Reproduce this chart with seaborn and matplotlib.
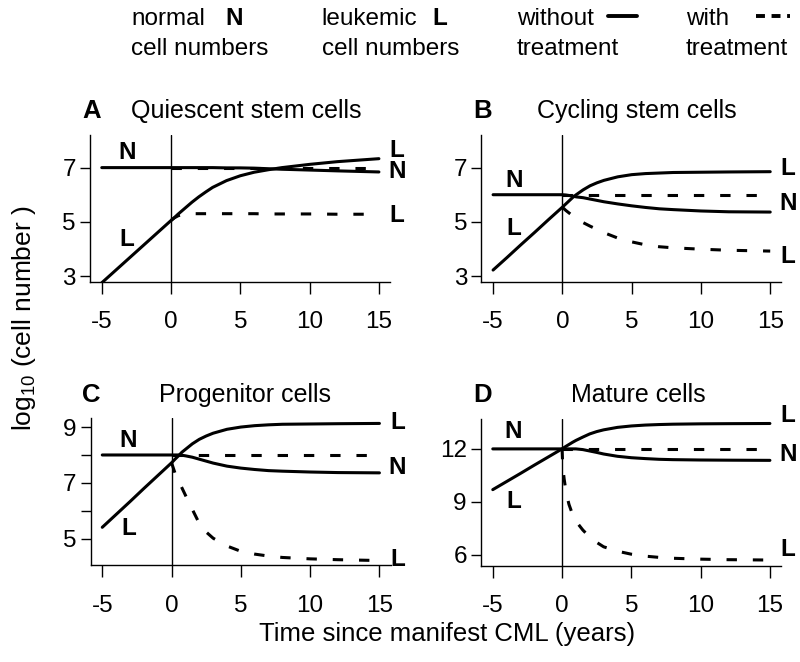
import matplotlib
matplotlib.use("Agg")
import matplotlib.pyplot as plt
import seaborn as sns
import pandas as pd
from matplotlib.lines import Line2D

# time since manifest CML (years)
t_full = [-5, -4, -3, -2, -1, 0, 0.25, 0.5, 0.75, 1, 1.5, 2, 2.5, 3, 4, 5, 6, 7, 8, 10, 12, 15]
t_treat = [0, 0.25, 0.5, 0.75, 1, 1.5, 2, 2.5, 3, 4, 5, 6, 7, 8, 10, 12, 15]
t_fast = [0, 0.05, 0.15, 0.3, 0.5, 0.75, 1, 1.5, 2, 2.5, 3, 4, 5, 6, 7, 8, 10, 12, 15]

# A: quiescent stem cells
A_N_without = [7.0, 7.0, 7.0, 7.0, 7.0, 7.0, 7.0, 7.0, 7.0, 7.0, 7.0, 7.0, 7.0, 7.0, 6.99, 6.99, 6.98, 6.96, 6.94, 6.91, 6.88, 6.84]
A_N_with = [7.0, 7.0, 7.0, 7.0, 7.0, 7.0, 7.0, 7.0, 7.0, 7.0, 7.0, 7.0, 7.0, 7.0, 7.0, 7.0, 7.0]
A_L_without = [2.75, 3.21, 3.67, 4.13, 4.59, 5.05, 5.16, 5.28, 5.39, 5.5, 5.72, 5.92, 6.1, 6.27, 6.52, 6.7, 6.83, 6.92, 7.0, 7.12, 7.22, 7.33]
A_L_with = [5.05, 5.15, 5.22, 5.26, 5.28, 5.3, 5.3, 5.3, 5.3, 5.3, 5.3, 5.3, 5.29, 5.29, 5.29, 5.28, 5.28]

# B: cycling stem cells
B_N_without = [6.0, 6.0, 6.0, 6.0, 6.0, 6.0, 5.99, 5.97, 5.95, 5.92, 5.89, 5.84, 5.79, 5.74, 5.66, 5.59, 5.53, 5.48, 5.45, 5.4, 5.37, 5.36]
B_N_with = [6.0, 6.0, 6.0, 6.0, 6.0, 6.0, 6.0, 6.0, 6.0, 6.0, 6.0, 6.0, 6.0, 6.0, 6.0, 6.0, 6.0]
B_L_without = [3.22, 3.68, 4.15, 4.61, 5.08, 5.54, 5.66, 5.78, 5.9, 6.0, 6.18, 6.33, 6.44, 6.53, 6.66, 6.74, 6.78, 6.8, 6.82, 6.83, 6.84, 6.85]
B_L_with = [5.54, 5.42, 5.32, 5.22, 5.13, 4.97, 4.84, 4.72, 4.6, 4.4, 4.26, 4.15, 4.08, 4.04, 3.99, 3.95, 3.92]

# C: progenitor cells
C_N_without = [8.0, 8.0, 8.0, 8.0, 8.0, 8.0, 8.0, 8.0, 7.99, 7.97, 7.92, 7.85, 7.78, 7.71, 7.6, 7.53, 7.48, 7.44, 7.42, 7.39, 7.37, 7.36]
C_N_with = [8.0, 8.0, 8.0, 8.0, 8.0, 8.0, 8.0, 8.0, 8.0, 8.0, 8.0, 8.0, 8.0, 8.0, 8.0, 8.0, 8.0]
C_L_without = [5.41, 5.87, 6.33, 6.8, 7.26, 7.72, 7.85, 7.97, 8.1, 8.2, 8.4, 8.56, 8.68, 8.78, 8.92, 9.0, 9.05, 9.08, 9.1, 9.11, 9.12, 9.13]
C_L_with = [7.72, 7.35, 7.08, 6.82, 6.56, 6.05, 5.55, 5.24, 5.02, 4.74, 4.55, 4.45, 4.38, 4.33, 4.28, 4.25, 4.22]

# D: mature cells
D_N_without = [12.0, 12.0, 12.0, 12.0, 12.0, 12.0, 12.0, 12.0, 12.0, 12.0, 11.96, 11.88, 11.8, 11.71, 11.58, 11.5, 11.45, 11.41, 11.39, 11.37, 11.36, 11.35]
D_N_with = [12.0, 12.0, 12.0, 12.0, 12.0, 12.0, 12.0, 12.0, 12.0, 12.0, 12.0, 12.0, 12.0, 12.0, 12.0, 12.0, 12.0]
D_L_without = [9.69, 10.15, 10.61, 11.08, 11.54, 12.0, 12.13, 12.25, 12.37, 12.48, 12.67, 12.85, 12.98, 13.08, 13.22, 13.3, 13.35, 13.38, 13.4, 13.42, 13.43, 13.44]
D_L_with = [12.0, 11.0, 10.3, 9.5, 8.85, 8.3, 7.9, 7.4, 7.0, 6.7, 6.45, 6.2, 6.03, 5.92, 5.85, 5.8, 5.75, 5.72, 5.7]

letters = ["A", "B", "C", "D"]
titles = ["Quiescent stem cells", "Cycling stem cells", "Progenitor cells", "Mature cells"]
x_ticks = [-5, 0, 5, 10, 15]

sns.set_style("ticks")
plt.rcParams['font.family'] = ['Liberation Sans', 'DejaVu Sans']
plt.rcParams['text.color'] = 'black'
plt.rcParams['axes.labelcolor'] = 'black'
plt.rcParams['xtick.color'] = 'black'
plt.rcParams['ytick.color'] = 'black'
plt.rcParams['axes.unicode_minus'] = False
plt.rcParams['mathtext.fontset'] = 'custom'
plt.rcParams['mathtext.rm'] = 'Liberation Sans'
plt.rcParams['mathtext.default'] = 'rm'

W, H = 800, 662
fig = plt.figure(figsize=(W / 100, H / 100), dpi=100)


def fx(px):
    return px / W


def fy(py):
    return 1 - py / H


LW = 2.2
DASH = (3.4, 5.2)

panels = [
    dict(pos=(90, 281.7), ylim=(2.79, 8.2), yt=[3, 5, 7], ytl=["3", "5", "7"],
         series=[(t_full, A_N_without, False), (t_treat, A_N_with, True),
                 (t_full, A_L_without, False), (t_treat, A_L_with, True)],
         left=[("N", -3.17, 7.54), ("L", -3.2, 4.33)],
         right=[("L", 7.65), ("N", 6.84), ("L", 5.22)],
         head=(82, 246.7, 117.7)),
    dict(pos=(481.3, 281.7), ylim=(2.79, 8.2), yt=[3, 5, 7], ytl=["3", "5", "7"],
         series=[(t_full, B_N_without, False), (t_treat, B_N_with, True),
                 (t_full, B_L_without, False), (t_treat, B_L_with, True)],
         left=[("N", -3.48, 6.52), ("L", -3.48, 4.75)],
         right=[("L", 6.95), ("N", 5.67), ("L", 3.71)],
         head=(473.3, 637, 117.7)),
    dict(pos=(90.5, 565), ylim=(4.06, 9.31), yt=[5, 6, 7, 8, 9], ytl=["5", "", "7", "", "9"],
         series=[(t_full, C_N_without, False), (t_treat, C_N_with, True),
                 (t_full, C_L_without, False), (t_treat, C_L_with, True)],
         left=[("N", -3.12, 8.53), ("L", -3.12, 5.38)],
         right=[("L", 9.16), ("N", 7.54), ("L", 4.24)],
         head=(81.7, 245, 402)),
    dict(pos=(481, 565.5), ylim=(5.39, 13.7), yt=[6, 9, 12], ytl=["6", "9", "12"],
         series=[(t_full, D_N_without, False), (t_treat, D_N_with, True),
                 (t_full, D_L_without, False), (t_fast, D_L_with, True)],
         left=[("N", -3.51, 13.0), ("L", -3.51, 9.02)],
         right=[("L", 13.89), ("N", 11.68), ("L", 6.28)],
         head=(473.3, 638, 402)),
]

ax_w, ax_h = 300, 146.6
for i, p in enumerate(panels):
    left_px, bottom_px = p["pos"]
    ax = fig.add_axes([fx(left_px), fy(bottom_px), ax_w / W, ax_h / H])
    ax.axvline(0, color="black", lw=1.0, zorder=1)
    for t, v, dashed in p["series"]:
        df = pd.DataFrame({"t": t, "v": v})
        sns.lineplot(data=df, x="t", y="v", ax=ax, color="black", lw=LW,
                     estimator=None, sort=False, zorder=3)
        if dashed:
            ax.lines[-1].set_dashes(DASH)
    ax.set_xlim(-5.85, 15.8)
    ax.set_ylim(*p["ylim"])
    ax.set_xticks(x_ticks)
    ax.set_xticklabels([str(x) for x in x_ticks])
    ax.set_yticks(p["yt"])
    ax.set_yticklabels(p["ytl"])
    ax.set_xlabel("")
    ax.set_ylabel("")
    sns.despine(ax=ax)
    for s in ["left", "bottom"]:
        ax.spines[s].set_linewidth(1.0)
        ax.spines[s].set_color("black")
    ax.tick_params(axis="x", length=8.4, width=1, pad=13, labelsize=17.5)
    ax.tick_params(axis="y", length=7.2, width=1, pad=3, labelsize=17.5)
    for s, x, y in p["left"]:
        ax.text(x, y, s, ha="center", va="center", fontsize=17.5, fontweight="bold")
    for s, y in p["right"]:
        ax.text(16.3, y, s, ha="center", va="center", fontsize=17.5, fontweight="bold",
                clip_on=False)
    lx, tx, by = p["head"]
    fig.text(fx(lx), fy(by), letters[i], ha="left", va="baseline", fontsize=18.5, fontweight="bold")
    fig.text(fx(tx), fy(by), titles[i], ha="center", va="baseline", fontsize=18)

# shared axis labels
fig.text(fx(24), fy(318), r"log$_{10}$ (cell number )", rotation=90, ha="center", va="center", fontsize=19)
fig.text(fx(447), fy(634), "Time since manifest CML (years)", ha="center", va="center", fontsize=18.5)

# header key
hs = 17.5
fig.text(fx(131), fy(25), "normal", fontsize=hs, va="baseline")
fig.text(fx(225.6), fy(25), "N", fontsize=17.5, fontweight="bold", va="baseline")
fig.text(fx(131), fy(55), "cell numbers", fontsize=hs, va="baseline")
fig.text(fx(321.5), fy(25), "leukemic", fontsize=hs, va="baseline")
fig.text(fx(432), fy(25), "L", fontsize=17.5, fontweight="bold", va="baseline")
fig.text(fx(321.5), fy(55), "cell numbers", fontsize=hs, va="baseline")
fig.text(fx(517), fy(25), "without", fontsize=hs, va="baseline")
fig.text(fx(517), fy(55), "treatment", fontsize=hs, va="baseline")
fig.text(fx(686), fy(25), "with", fontsize=hs, va="baseline")
fig.text(fx(686), fy(55), "treatment", fontsize=hs, va="baseline")
fig.add_artist(Line2D([fx(607.7), fx(637.4)], [fy(16), fy(16)], color="black", lw=2.8,
                      transform=fig.transFigure))
fig.add_artist(Line2D([fx(756), fx(790)], [fy(16), fy(16)], color="black", lw=2.8,
                      dashes=(2.3, 1.7), transform=fig.transFigure))

fig.savefig("out.png", dpi=100)
